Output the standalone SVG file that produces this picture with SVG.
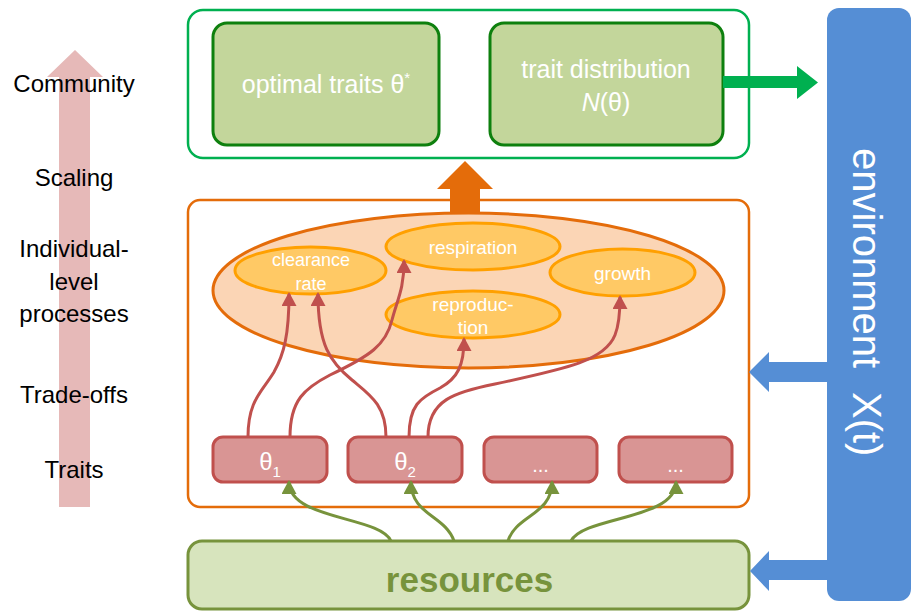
<svg xmlns="http://www.w3.org/2000/svg" width="912" height="612" viewBox="0 0 912 612">
<style>
text{font-family:"Liberation Sans",Arial,sans-serif}
.lbl{font-size:24px;fill:#000;text-anchor:middle}
.wt{fill:#fff;text-anchor:middle}
.topbox{fill:#c3d69b;stroke:#0e800e;stroke-width:3}
.proc{fill:#ffc965;stroke:#ffa000;stroke-width:3}
.trait{fill:#d99594;stroke:#c0504d;stroke-width:3}
.red{fill:none;stroke:#c0504d;stroke-width:3;marker-end:url(#arR)}
.grn{fill:none;stroke:#77933c;stroke-width:3;marker-end:url(#arG)}
.blue{fill:#558ed5}
</style>
<defs>
<marker id="arR" markerUnits="userSpaceOnUse" markerWidth="15" markerHeight="15" refX="12" refY="7.5" orient="auto"><path d="M0,0 L14,7.5 L0,15 z" fill="#c0504d"/></marker>
<marker id="arG" markerUnits="userSpaceOnUse" markerWidth="15" markerHeight="15" refX="12" refY="7.5" orient="auto"><path d="M0,0 L14,7.5 L0,15 z" fill="#77933c"/></marker>
</defs>
<rect width="912" height="612" fill="#fff"/>

<g id="scale-axis">
<polygon points="75,50 103,77 90,77 90,507 59,507 59,77 47,77" fill="#e6b9b8"/>
<text class="lbl" x="74" y="92">Community</text>
<text class="lbl" x="74" y="186">Scaling</text>
<text class="lbl" x="74" y="257">Individual-</text>
<text class="lbl" x="74" y="290">level</text>
<text class="lbl" x="74" y="322">processes</text>
<text class="lbl" x="74" y="403">Trade-offs</text>
<text class="lbl" x="74" y="478">Traits</text>
</g>

<g id="community">
<rect x="188" y="10" width="561" height="148" rx="15" fill="#fff" stroke="#00b050" stroke-width="2.5"/>
</g>
<g id="optimal-traits">
<rect class="topbox" x="213" y="23" width="226" height="122" rx="14"/>
<text class="wt" x="326" y="93" font-size="25">optimal traits θ<tspan font-size="15" dy="-10">*</tspan></text>
</g>
<g id="trait-distribution">
<rect class="topbox" x="490" y="23" width="233" height="122" rx="14"/>
<text class="wt" x="606" y="78" font-size="25">trait distribution</text>
<text class="wt" x="606" y="111" font-size="25"><tspan font-style="italic">N</tspan>(θ)</text>
</g>

<g id="environment">
<rect class="blue" x="827" y="8" width="84" height="593" rx="12"/>
<text transform="translate(853,148) rotate(90)" font-size="40" fill="#fff">environment</text>
<text transform="translate(853,392) rotate(90)" font-size="40" fill="#fff">X(t)</text>
</g>

<g id="individual">
<rect x="188" y="200" width="561" height="307" rx="12" fill="#fff" stroke="#e46c0a" stroke-width="2.5"/>
</g>
<g id="processes">
<ellipse cx="468.5" cy="290.5" rx="255.5" ry="77.5" fill="#fbd5b5" stroke="#e46c0a" stroke-width="3"/>
</g>
<g id="clearance-rate">
<ellipse class="proc" cx="310.5" cy="270.5" rx="75.5" ry="23.5"/>
<text class="wt" x="311" y="266" font-size="18">clearance</text>
<text class="wt" x="311" y="290" font-size="18">rate</text>
</g>
<g id="respiration">
<ellipse class="proc" cx="473" cy="246.5" rx="87" ry="23.5"/>
<text class="wt" x="473" y="254" font-size="19">respiration</text>
</g>
<g id="growth">
<ellipse class="proc" cx="622.5" cy="272.5" rx="72.5" ry="23.5"/>
<text class="wt" x="622.5" y="280" font-size="19">growth</text>
</g>
<g id="reproduction">
<ellipse class="proc" cx="473" cy="314.5" rx="87" ry="23.5"/>
<text class="wt" x="473" y="311" font-size="19">reproduc-</text>
<text class="wt" x="473" y="334" font-size="19">tion</text>
</g>

<g id="theta1">
<rect class="trait" x="213" y="437" width="114" height="45" rx="10"/>
<text class="wt" x="270" y="470" font-size="24">θ<tspan font-size="15" dy="7">1</tspan></text>
</g>
<g id="theta2">
<rect class="trait" x="348" y="437" width="114" height="45" rx="10"/>
<text class="wt" x="405" y="470" font-size="24">θ<tspan font-size="15" dy="7">2</tspan></text>
</g>
<g id="theta3">
<rect class="trait" x="484" y="437" width="113" height="45" rx="10"/>
<text class="wt" x="540.5" y="472" font-size="20">...</text>
</g>
<g id="theta4">
<rect class="trait" x="619" y="437" width="113" height="45" rx="10"/>
<text class="wt" x="675.5" y="472" font-size="20">...</text>
</g>

<g id="resources">
<rect x="188" y="541" width="561" height="68" rx="14" fill="#d7e4bd" stroke="#77933c" stroke-width="3"/>
<text x="469.5" y="592" font-size="35" font-weight="bold" fill="#77933c" text-anchor="middle">resources</text>
</g>

<g id="connectors">
<polygon points="465,161 493,189 480,189 480,213 450,213 450,189 437,189" fill="#e46c0a"/>
<polygon points="723,76 797,76 797,66 818,82.5 797,99 797,88 723,88" fill="#00b050"/>
<polygon class="blue" points="827,362 769,362 769,352 749,372 769,392 769,382 827,382"/>
<polygon class="blue" points="827,560 769,560 769,551 750,571 769,591 769,580 827,580"/>
<path class="red" d="M248,437 C248,400 262,392 274,372 C284,354 289,335 289,294"/>
<path class="red" d="M290,437 C290,400 305,388 330,375 C370,356 386,345 392,320 C397,300 404,290 404,261"/>
<path class="red" d="M386,437 C386,405 370,395 352,380 C330,362 318,345 318,294"/>
<path class="red" d="M409,437 C409,405 420,398 440,388 C458,378 464,365 464,339"/>
<path class="red" d="M428,437 C428,400 455,392 495,384 C570,368 605,360 615,335 C619,325 620,315 620,297"/>
<path class="grn" d="M391,541 C380,516 289,520 289,482"/>
<path class="grn" d="M454,541 C445,515 411,515 411,482"/>
<path class="grn" d="M508,541 C516,515 552,515 552,482"/>
<path class="grn" d="M571,541 C584,516 676,520 676,482"/>
</g>
</svg>
